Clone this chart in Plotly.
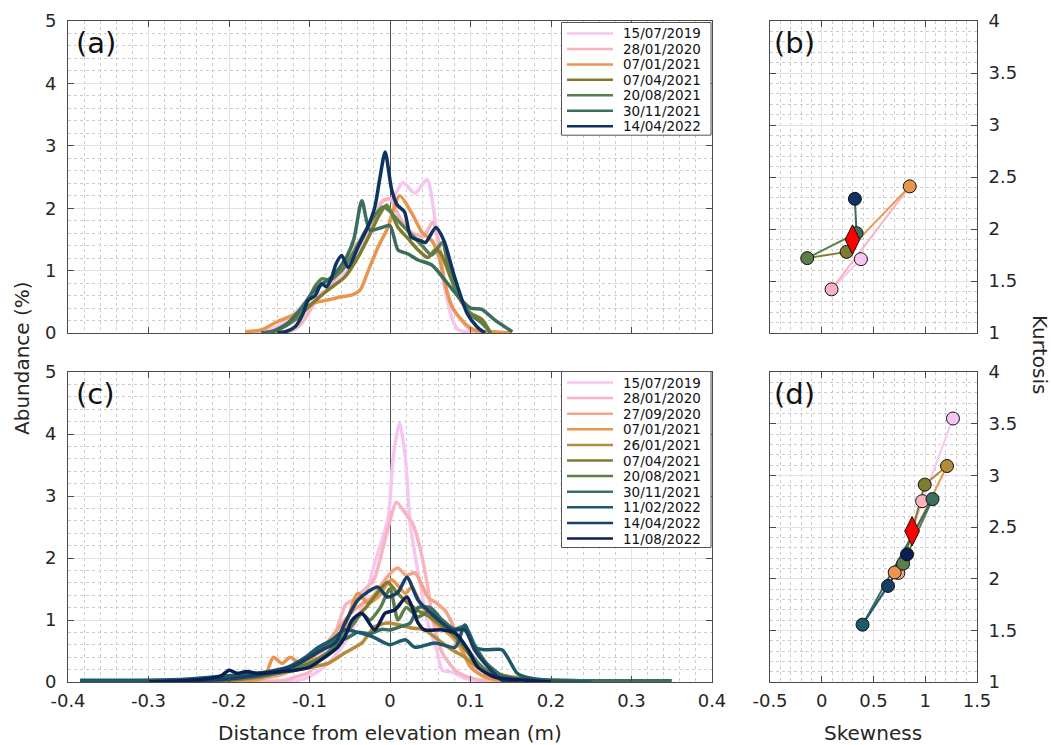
import numpy as np
import plotly.graph_objects as go

FONT = "DejaVu Sans"
INK = "#262626"

# ---------------- top row: survey dates, colours ----------------
dates_top = ["15/07/2019", "28/01/2020", "07/01/2021", "07/04/2021",
             "20/08/2021", "30/11/2021", "14/04/2022"]
colors_top = ["#f6c6f1", "#f7b3bf", "#e8964f", "#7e7c30",
              "#5b7f4b", "#3b6e5d", "#0f3361"]

# elevation-distance distributions, panel (a)
a_x_0 = [-0.175, -0.16, -0.14, -0.12, -0.10, -0.08, -0.06, -0.045, -0.03, -0.022, -0.01, 0.003, 0.016, 0.031, 0.046, 0.054, 0.062, 0.071, 0.078, 0.085, 0.095, 0.11]
a_y_0 = [0.0, 0.02, 0.1, 0.3, 0.55, 0.68, 0.92, 1.2, 1.5, 1.65, 2.12, 2.16, 2.41, 2.24, 2.46, 2.0, 1.17, 0.53, 0.2, 0.05, 0.02, 0.0]
a_x_1 = [-0.16, -0.13, -0.12, -0.11, -0.10, -0.09, -0.075, -0.06, -0.047, -0.035, -0.02, -0.01, 0.0, 0.01, 0.02, 0.031, 0.042, 0.053, 0.06, 0.068, 0.078, 0.089, 0.1, 0.11]
a_y_1 = [0.0, 0.02, 0.05, 0.15, 0.35, 0.55, 0.75, 1.05, 1.37, 1.5, 1.8, 2.1, 2.15, 1.9, 1.7, 1.58, 1.55, 1.78, 1.5, 0.8, 0.4, 0.2, 0.05, 0.0]
a_x_2 = [-0.18, -0.16, -0.14, -0.115, -0.097, -0.077, -0.06, -0.047, -0.037, -0.027, -0.015, -0.003, 0.012, 0.027, 0.04, 0.052, 0.062, 0.068, 0.077, 0.089, 0.10, 0.11, 0.13, 0.15]
a_y_2 = [0.02, 0.05, 0.18, 0.32, 0.47, 0.53, 0.58, 0.61, 0.69, 1.0, 1.37, 1.68, 2.2, 1.92, 1.61, 1.48, 1.17, 0.8, 0.42, 0.21, 0.08, 0.03, 0.02, 0.0]
a_x_3 = [-0.15, -0.139, -0.118, -0.097, -0.077, -0.056, -0.04, -0.027, -0.015, -0.004, 0.01, 0.022, 0.035, 0.047, 0.056, 0.062, 0.075, 0.085, 0.10, 0.114, 0.125]
a_y_3 = [0.0, 0.05, 0.21, 0.47, 0.69, 0.9, 1.21, 1.53, 1.85, 2.05, 1.69, 1.52, 1.33, 1.21, 1.33, 1.3, 0.9, 0.58, 0.32, 0.22, 0.0]
a_x_4 = [-0.16, -0.14, -0.12, -0.105, -0.093, -0.084, -0.075, -0.06, -0.045, -0.03, -0.015, -0.008, 0.0, 0.01, 0.025, 0.04, 0.052, 0.065, 0.072, 0.085, 0.1, 0.115, 0.125]
a_y_4 = [0.0, 0.05, 0.2, 0.45, 0.75, 0.87, 0.85, 1.0, 1.3, 1.65, 1.95, 2.02, 1.95, 1.8, 1.6, 1.4, 1.25, 1.45, 1.1, 0.6, 0.3, 0.15, 0.0]
a_x_5 = [-0.16, -0.147, -0.127, -0.109, -0.097, -0.085, -0.072, -0.056, -0.045, -0.035, -0.025, -0.01, 0.0, 0.01, 0.022, 0.035, 0.052, 0.068, 0.085, 0.1, 0.114, 0.13, 0.152]
a_y_5 = [0.0, 0.02, 0.16, 0.42, 0.64, 0.78, 0.9, 1.17, 1.5, 2.12, 1.65, 1.69, 1.72, 1.33, 1.27, 1.17, 1.09, 0.85, 0.58, 0.4, 0.38, 0.21, 0.02]
a_x_6 = [-0.14, -0.13, -0.118, -0.108, -0.102, -0.093, -0.085, -0.079, -0.073, -0.067, -0.06, -0.052, -0.04, -0.028, -0.019, -0.013, -0.006, 0.002, 0.009, 0.018, 0.026, 0.038, 0.044, 0.057, 0.067, 0.079, 0.096, 0.108, 0.118]
a_y_6 = [0.0, 0.02, 0.1, 0.31, 0.52, 0.6, 0.79, 0.74, 0.87, 1.11, 1.24, 1.05, 1.37, 1.69, 2.01, 2.45, 2.9, 2.3, 2.05, 1.94, 1.54, 1.48, 1.45, 1.69, 1.48, 0.95, 0.31, 0.1, 0.0]

a_x = [a_x_0, a_x_1, a_x_2, a_x_3, a_x_4, a_x_5, a_x_6]
a_y = [a_y_0, a_y_1, a_y_2, a_y_3, a_y_4, a_y_5, a_y_6]

# panel (b): skewness / kurtosis per survey
skew_top = [0.378, 0.095, 0.85, 0.24, -0.14, 0.336, 0.32]
kurt_top = [1.71, 1.42, 2.41, 1.78, 1.72, 1.96, 2.29]

# ---------------- bottom row ----------------
dates_bot = ["15/07/2019", "28/01/2020", "27/09/2020", "07/01/2021", "26/01/2021",
             "07/04/2021", "20/08/2021", "30/11/2021", "11/02/2022", "14/04/2022",
             "11/08/2022"]
colors_bot = ["#f6c6f1", "#f8b4c0", "#f5a48a", "#e8964f", "#b38b3b",
              "#7e7c30", "#5b7f4b", "#3b6e5d", "#1f5a6b", "#173e66", "#0c1f52"]

c_x_0 = [-0.2, -0.12, -0.105, -0.093, -0.077, -0.06, -0.047, -0.035, -0.027, -0.019, -0.01, -0.002, 0.004, 0.012, 0.019, 0.025, 0.035, 0.047, 0.058, 0.065, 0.077, 0.093, 0.105, 0.12]
c_y_0 = [0.0, 0.02, 0.06, 0.14, 0.3, 0.56, 0.84, 1.21, 1.53, 1.92, 2.29, 2.66, 3.63, 4.18, 3.63, 2.56, 1.76, 0.95, 0.52, 0.19, 0.16, 0.06, 0.02, 0.0]
c_x_1 = [-0.2, -0.13, -0.118, -0.1, -0.084, -0.068, -0.055, -0.046, -0.035, -0.02, -0.01, 0.0, 0.008, 0.019, 0.028, 0.037, 0.046, 0.054, 0.065, 0.081, 0.097, 0.118, 0.14]
c_y_1 = [0.0, 0.03, 0.08, 0.16, 0.47, 0.79, 1.25, 1.32, 1.45, 1.65, 2.1, 2.6, 2.9, 2.72, 2.56, 2.18, 1.6, 0.95, 0.47, 0.19, 0.08, 0.02, 0.0]
c_x_2 = [-0.2, -0.16, -0.13, -0.105, -0.089, -0.072, -0.056, -0.04, -0.022, -0.006, 0.004, 0.01, 0.02, 0.031, 0.047, 0.058, 0.068, 0.077, 0.089, 0.105, 0.13, 0.16]
c_y_2 = [0.0, 0.05, 0.14, 0.3, 0.47, 0.73, 1.0, 1.21, 1.37, 1.65, 1.8, 1.84, 1.72, 1.76, 1.37, 1.27, 1.16, 0.95, 0.52, 0.19, 0.03, 0.0]
c_x_3 = [-0.3, -0.2, -0.165, -0.155, -0.145, -0.134, -0.124, -0.114, -0.097, -0.077, -0.056, -0.04, -0.027, -0.015, 0.002, 0.019, 0.027, 0.04, 0.056, 0.077, 0.089, 0.1, 0.118, 0.15, 0.2]
c_y_3 = [0.0, 0.02, 0.04, 0.1, 0.4, 0.3, 0.4, 0.32, 0.35, 0.47, 0.89, 1.43, 1.27, 1.37, 1.65, 1.43, 1.53, 1.21, 0.95, 0.73, 0.52, 0.24, 0.08, 0.02, 0.0]
c_x_4 = [-0.35, -0.2, -0.16, -0.139, -0.118, -0.097, -0.077, -0.056, -0.035, -0.019, -0.003, 0.012, 0.027, 0.043, 0.06, 0.077, 0.093, 0.109, 0.13, 0.152, 0.175, 0.22, 0.28]
c_y_4 = [0.02, 0.04, 0.08, 0.14, 0.19, 0.24, 0.3, 0.47, 0.63, 0.89, 0.95, 0.92, 0.87, 0.84, 0.68, 0.52, 0.4, 0.24, 0.14, 0.08, 0.04, 0.03, 0.0]
c_x_5 = [-0.35, -0.2, -0.15, -0.12, -0.1, -0.08, -0.06, -0.045, -0.03, -0.015, -0.003, 0.008, 0.02, 0.035, 0.05, 0.065, 0.08, 0.095, 0.11, 0.13, 0.16, 0.2]
c_y_5 = [0.01, 0.03, 0.12, 0.22, 0.3, 0.42, 0.7, 1.0, 1.2, 1.45, 1.61, 1.45, 1.3, 1.15, 1.05, 0.9, 0.75, 0.5, 0.25, 0.08, 0.02, 0.0]
c_x_6 = [-0.3, -0.2, -0.15, -0.12, -0.1, -0.08, -0.06, -0.045, -0.035, -0.025, -0.012, 0.0, 0.01, 0.02, 0.035, 0.05, 0.065, 0.08, 0.095, 0.11, 0.13, 0.16]
c_y_6 = [0.01, 0.04, 0.12, 0.2, 0.3, 0.45, 0.7, 0.95, 1.1, 1.0, 1.2, 1.5, 1.0, 1.2, 1.05, 1.15, 0.95, 0.75, 0.55, 0.3, 0.1, 0.0]
c_x_7 = [-0.38, -0.25, -0.2, -0.15, -0.12, -0.1, -0.085, -0.07, -0.055, -0.04, -0.025, -0.01, 0.0, 0.012, 0.025, 0.035, 0.05, 0.065, 0.08, 0.093, 0.105, 0.12, 0.14, 0.17, 0.25, 0.35]
c_y_7 = [0.02, 0.03, 0.06, 0.12, 0.25, 0.4, 0.55, 0.65, 0.7, 0.8, 0.78, 0.85, 0.84, 0.89, 0.95, 1.2, 1.2, 1.0, 0.85, 0.9, 0.6, 0.3, 0.1, 0.04, 0.02, 0.02]
c_x_8 = [-0.385, -0.3, -0.25, -0.2, -0.16, -0.127, -0.105, -0.089, -0.072, -0.056, -0.04, -0.022, -0.008, 0.0, 0.019, 0.031, 0.056, 0.081, 0.093, 0.105, 0.118, 0.139, 0.146, 0.158, 0.168, 0.2, 0.25]
c_y_8 = [0.03, 0.03, 0.05, 0.1, 0.15, 0.24, 0.4, 0.56, 0.68, 0.84, 0.8, 0.73, 0.64, 0.6, 0.68, 0.56, 0.63, 0.56, 0.92, 0.56, 0.52, 0.52, 0.4, 0.14, 0.08, 0.02, 0.0]
c_x_9 = [-0.25, -0.2, -0.15, -0.118, -0.1, -0.084, -0.068, -0.056, -0.04, -0.028, -0.015, -0.003, 0.01, 0.021, 0.035, 0.056, 0.077, 0.093, 0.105, 0.122, 0.139, 0.16]
c_y_9 = [0.02, 0.05, 0.15, 0.27, 0.4, 0.52, 0.63, 0.95, 1.32, 1.45, 1.53, 1.37, 1.45, 1.69, 1.32, 1.05, 0.84, 0.84, 0.52, 0.24, 0.03, 0.0]
c_x_10 = [-0.3, -0.26, -0.23, -0.21, -0.2, -0.19, -0.178, -0.165, -0.15, -0.135, -0.118, -0.1, -0.081, -0.065, -0.056, -0.047, -0.035, -0.019, -0.006, 0.006, 0.021, 0.035, 0.043, 0.065, 0.081, 0.097, 0.109, 0.13, 0.168, 0.2]
c_y_10 = [0.0, 0.02, 0.05, 0.1, 0.19, 0.14, 0.17, 0.14, 0.15, 0.17, 0.19, 0.24, 0.4, 0.56, 0.73, 1.0, 1.11, 0.84, 1.11, 1.16, 1.37, 0.95, 0.84, 0.84, 0.79, 0.52, 0.24, 0.08, 0.03, 0.0]

c_x = [c_x_0, c_x_1, c_x_2, c_x_3, c_x_4, c_x_5, c_x_6, c_x_7, c_x_8, c_x_9, c_x_10]
c_y = [c_y_0, c_y_1, c_y_2, c_y_3, c_y_4, c_y_5, c_y_6, c_y_7, c_y_8, c_y_9, c_y_10]

# panel (d): skewness / kurtosis per survey
skew_bot = [1.268, 0.97, 0.74, 0.705, 1.21, 0.995, 0.786, 1.07, 0.394, 0.64, 0.824]
kurt_bot = [3.55, 2.75, 2.055, 2.06, 3.09, 2.91, 2.145, 2.77, 1.555, 1.93, 2.235]

dist_ticks = [-0.4, -0.3, -0.2, -0.1, 0, 0.1, 0.2, 0.3, 0.4]
dist_labels = ["-0.4", "-0.3", "-0.2", "-0.1", "0", "0.1", "0.2", "0.3", "0.4"]
abund_ticks = [0, 1, 2, 3, 4, 5]
skew_ticks = [-0.5, 0, 0.5, 1, 1.5]
skew_labels = ["-0.5", "0", "0.5", "1", "1.5"]
kurt_ticks = [1, 1.5, 2, 2.5, 3, 3.5, 4]

W, H = 1051, 745
LINE_W = 3.5

fig = go.Figure()

# distribution curves
for i, d in enumerate(dates_top):
    fig.add_trace(go.Scatter(x=a_x[i], y=a_y[i], mode="lines", name=d, showlegend=False,
                             line=dict(color=colors_top[i], width=LINE_W, shape="spline", smoothing=0.7),
                             xaxis="x", yaxis="y"))
for i, d in enumerate(dates_bot):
    fig.add_trace(go.Scatter(x=c_x[i], y=c_y[i], mode="lines", name=d, showlegend=False,
                             line=dict(color=colors_bot[i], width=LINE_W, shape="spline", smoothing=0.7),
                             xaxis="x3", yaxis="y3"))


def moment_panel(skew, kurt, colors, xa, ya):
    # consecutive surveys joined, each segment in the colour of its start survey
    for i in range(len(skew) - 1):
        fig.add_trace(go.Scatter(x=skew[i:i + 2], y=kurt[i:i + 2], mode="lines",
                                 line=dict(color=colors[i], width=2),
                                 showlegend=False, hoverinfo="skip", xaxis=xa, yaxis=ya))
    fig.add_trace(go.Scatter(x=skew, y=kurt, mode="markers", showlegend=False,
                             marker=dict(size=13, color=colors, line=dict(color="#111111", width=1)),
                             xaxis=xa, yaxis=ya))
    # mean of all surveys
    fig.add_trace(go.Scatter(x=[np.mean(skew)], y=[np.mean(kurt)], mode="markers", showlegend=False,
                             marker=dict(size=21, symbol="diamond-tall", color="#ff0000",
                                         line=dict(color="#111111", width=1)),
                             xaxis=xa, yaxis=ya))


moment_panel(skew_top, kurt_top, colors_top, "x2", "y2")
moment_panel(skew_bot, kurt_bot, colors_bot, "x4", "y4")


def axis(domain, rng, tickvals, minor, anchor, ticktext=None, labels=True, side=None, zeroline=False):
    d = dict(domain=domain, range=rng, tickvals=tickvals, anchor=anchor, automargin=False,
             showticklabels=labels, ticks="inside", ticklen=6, tickcolor="#4a4a4a",
             showline=True, linecolor="#4a4a4a", linewidth=1, mirror="ticks",
             showgrid=True, gridcolor="#e3e3e3", gridwidth=1,
             zeroline=zeroline, zerolinecolor="#555555", zerolinewidth=1.2,
             tickfont=dict(family=FONT, size=18, color=INK),
             minor=dict(dtick=minor, showgrid=True, gridcolor="#cdcdcd", griddash="dot", gridwidth=1, ticks=""),
             fixedrange=True)
    if ticktext is not None:
        d["ticktext"] = ticktext
    if side:
        d["side"] = side
    return d


xa_dom = [68 / W, 712 / W]
xb_dom = [770 / W, 977 / W]
yt_dom = [1 - 333 / H, 1 - 21 / H]
yb_dom = [1 - 682 / H, 1 - 372 / H]

fig.update_layout(
    width=W, height=H, margin=dict(l=0, r=0, t=0, b=0),
    paper_bgcolor="white", plot_bgcolor="white", showlegend=False,
    xaxis=axis(xa_dom, [-0.4, 0.4], dist_ticks, 0.02, "y", labels=False, zeroline=True),
    yaxis=axis(yt_dom, [0, 5], abund_ticks, 0.2, "x"),
    xaxis2=axis(xb_dom, [-0.5, 1.5], skew_ticks, 0.1, "y2", labels=False),
    yaxis2=axis(yt_dom, [1, 4], kurt_ticks, 0.1, "x2", side="right"),
    xaxis3=axis(xa_dom, [-0.4, 0.4], dist_ticks, 0.02, "y3", ticktext=dist_labels, zeroline=True),
    yaxis3=axis(yb_dom, [0, 5], abund_ticks, 0.2, "x3"),
    xaxis4=axis(xb_dom, [-0.5, 1.5], skew_ticks, 0.1, "y4", ticktext=skew_labels),
    yaxis4=axis(yb_dom, [1, 4], kurt_ticks, 0.1, "x4", side="right"),
)
fig.update_xaxes(ticklabelstandoff=2)
fig.update_yaxes(ticklabelstandoff=7)


def date_key(dates, colors, box_top, step):
    """Boxed key of survey dates in the upper-right corner of a distribution panel."""
    left, right = 561.5, 711.0
    first = box_top + 11.0
    bottom = first + step * (len(dates) - 1) + 9.0
    fig.add_shape(type="rect", xref="paper", yref="paper",
                  x0=left / W, x1=right / W, y0=1 - bottom / H, y1=1 - box_top / H,
                  line=dict(color="#555555", width=1), fillcolor="white", layer="above")
    for i, (d, c) in enumerate(zip(dates, colors)):
        yc = 1 - (first + step * i) / H
        fig.add_shape(type="line", xref="paper", yref="paper",
                      x0=567 / W, x1=613 / W, y0=yc, y1=yc,
                      line=dict(color=c, width=2.5), layer="above")
        fig.add_annotation(text=d, xref="paper", yref="paper", x=621 / W, y=yc,
                           xanchor="left", yanchor="middle", showarrow=False,
                           font=dict(family=FONT, size=13.5, color="#111111"))


date_key(dates_top, colors_top, 22.5, 15.45)
date_key(dates_bot, colors_bot, 371.5, 15.6)

tag_font = dict(family=FONT, size=29, color="#111111")
for ref, tag in [("x", "(a)"), ("x2", "(b)"), ("x3", "(c)"), ("x4", "(d)")]:
    yref = ref.replace("x", "y")
    fig.add_annotation(text=tag, xref=ref + " domain", yref=yref + " domain", x=0.01, y=0.99,
                       xanchor="left", yanchor="top", showarrow=False, font=tag_font)

title_font = dict(family=FONT, size=20, color=INK)
titles = [("Abundance (%)", 22, 358, -90),
          ("Kurtosis", 1040, 355, 90),
          ("Distance from elevation mean (m)", 390, 733, 0),
          ("Skewness", 873, 733, 0)]
for text, px, py, ang in titles:
    fig.add_annotation(text=text, xref="paper", yref="paper", x=px / W, y=1 - py / H,
                       xanchor="center", yanchor="middle", textangle=ang,
                       showarrow=False, font=title_font)

fig.write_html("out.html")
